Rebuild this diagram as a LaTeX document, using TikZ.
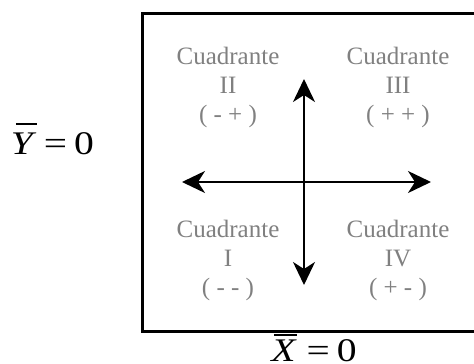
\documentclass[tikz,border=0pt]{standalone}
\usepackage{fontspec}
\usepackage{graphicx}
\setmainfont{Liberation Serif}
\usetikzlibrary{arrows.meta}
\definecolor{quadgray}{RGB}{128,128,128}
\tikzset{
  quad/.style={text=quadgray, align=center, font=\fontsize{25}{29}\selectfont, inner sep=0pt},
  axis/.style={line width=2pt, {Stealth[length=23pt,width=22pt,inset=7pt]}-{Stealth[length=23pt,width=22pt,inset=7pt]}},
  frame/.style={line width=3pt},
  eqlabel/.style={font=\fontsize{33}{38}\selectfont, inner sep=0pt, anchor=base}
}
% #1 letter, #2 bar offset, #3 bar length, #4 bar height
\newcommand{\barredeq}[4]{\makebox[0pt][l]{\hspace{#2}\raisebox{#4}{\rule{#3}{1.6pt}}}\scalebox{1.2}[1]{\itshape #1}\hspace{11pt}\scalebox{1.25}[1]{=}\hspace{7pt}\scalebox{1.2}[1]{0}}
\begin{document}
\begin{tikzpicture}[x=1pt,y=-1pt]
\useasboundingbox (0,0) rectangle (474,364);
\draw[frame] (480,13) -- (142.5,13) -- (142.5,331) -- (480,331);
\coordinate (l) at (182,182);
\coordinate (r) at (431,182);
\coordinate (t) at (304,79);
\coordinate (b) at (304,285);
\draw[axis] (l) -- (r);
\draw[axis] (b) -- (t);
\node[quad] (q2) at (228,87) {Cuadrante\\II\\( - + )};
\node[quad] (q3) at (398,87) {Cuadrante\\III\\( + + )};
\node[quad] (q1) at (228,260) {Cuadrante\\I\\( - - )};
\node[quad] (q4) at (398,260) {Cuadrante\\IV\\( + - )};
\node[eqlabel] (ylab) at (52.5,154) {\barredeq{Y}{5pt}{21pt}{29pt}};
\node[eqlabel] (xlab) at (314,361) {\barredeq{X}{3pt}{23pt}{25.5pt}};
\end{tikzpicture}
\end{document}
